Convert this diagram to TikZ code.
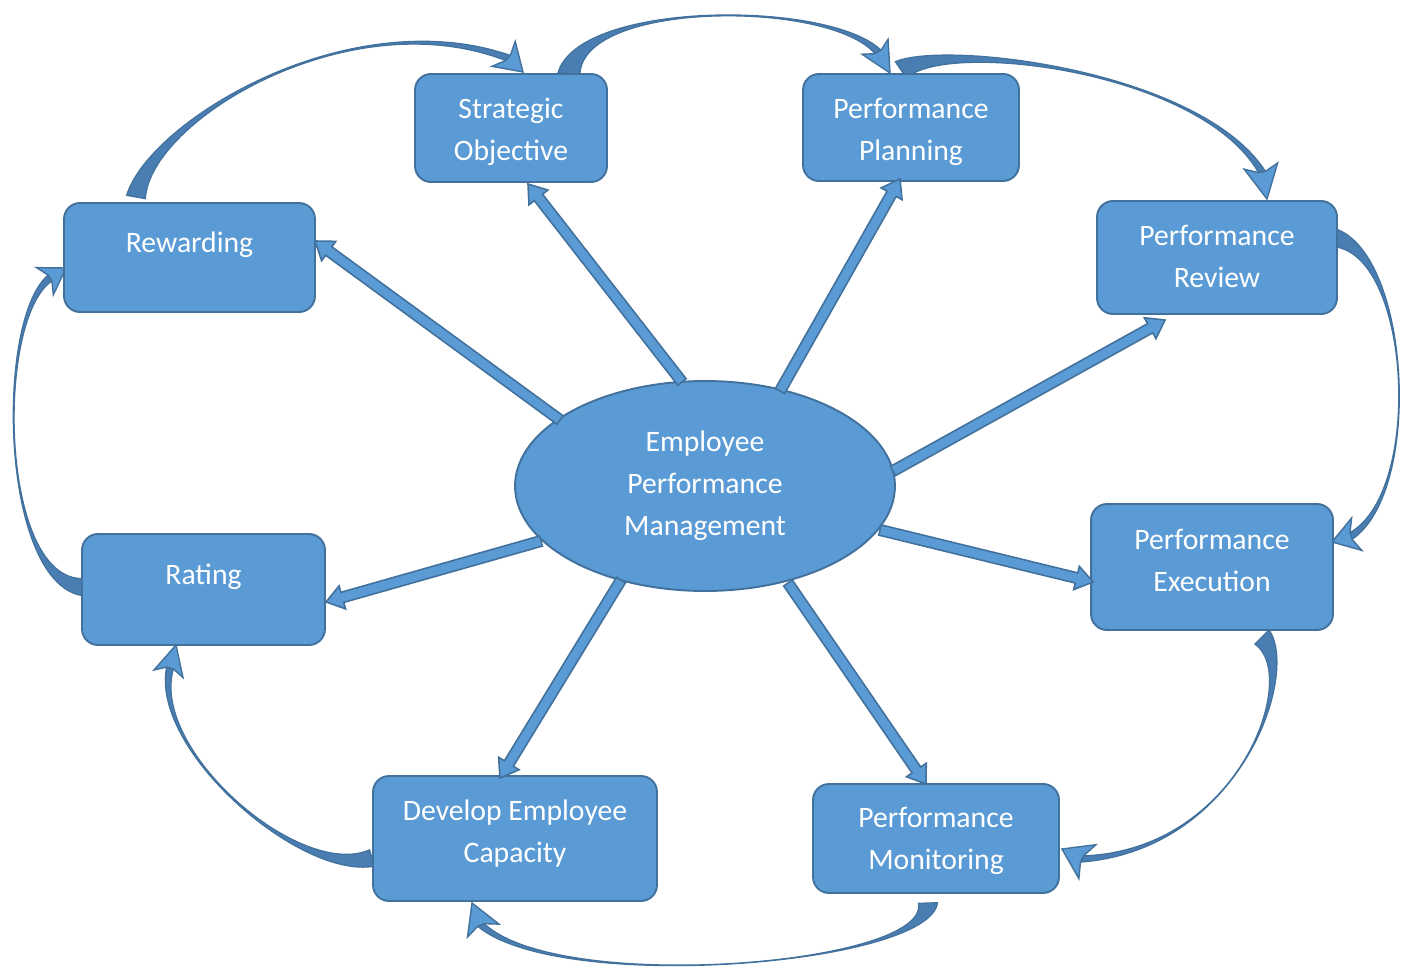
\documentclass[tikz,border=0pt]{standalone}
\usepackage{fontspec}
\setmainfont{Carlito}
\usetikzlibrary{calc,shapes.geometric}
\definecolor{boxfill}{RGB}{91,155,213}
\definecolor{boxline}{RGB}{65,113,156}
\definecolor{darkface}{RGB}{74,126,179}
\tikzset{
  box/.style={rounded corners=0.32cm, fill=boxfill, draw=boxline, line width=1.1pt,
    text=white, align=center, inner sep=0pt, font=\fontsize{16.9pt}{23.9pt}\selectfont},
  boxtext/.style={text=white, align=center, inner sep=0pt, font=\fontsize{16.9pt}{23.9pt}\selectfont},
  hub/.style={ellipse, fill=boxfill, draw=boxline, line width=1.1pt, text=white,
    align=center, inner sep=0pt, minimum width=7.6cm, minimum height=4.2cm,
    font=\fontsize{16.9pt}{23.9pt}\selectfont},
  sarrow/.style={fill=boxfill, draw=boxline, line width=0.9pt, line join=miter},
  cbody/.style={fill=darkface, draw=boxline, line width=0.7pt},
  chead/.style={fill=boxfill, draw=boxline, line width=0.8pt, line join=miter}
}
% straight block arrow from #1 to #2
\newcommand\blockarrow[2]{%
  \path ($(#2)!0.34cm!(#1)$) coordinate (bh);
  \filldraw[sarrow] ($(#1)!0.105cm!90:(#2)$) -- ($(bh)!0.105cm!90:(#2)$) -- ($(bh)!0.24cm!90:(#2)$)
    -- (#2) -- ($(bh)!0.24cm!-90:(#2)$) -- ($(bh)!0.105cm!-90:(#2)$) -- ($(#1)!0.105cm!-90:(#2)$) -- cycle;}
% curved tapered arrow: #1 tail, #2 c1, #3 c2, #4 head base, #5 tip, #6 tail half width, #7 head half width
\newcommand\curvearrow[7]{%
  \path ($(#1)!#6!90:(#2)$) coordinate (t1) ($(#1)!#6!-90:(#2)$) coordinate (t2)
    ($(#4)!0.07cm!90:(#5)$) coordinate (b1) ($(#4)!0.07cm!-90:(#5)$) coordinate (b2)
    ($(#4)!0.12cm!180:(#5)$) coordinate (bb);
  \filldraw[cbody] (t1) .. controls (#2) and (#3) .. (b1) -- (b2) .. controls (#3) and (#2) .. (t2) -- cycle;
  \filldraw[chead] (b1) -- ($(bb)!#7!90:(#5)$) -- (#5) -- ($(bb)!#7!-90:(#5)$) -- (b2) -- cycle;}
\begin{document}
\begin{tikzpicture}[x=0.02cm, y=-0.02cm]
\useasboundingbox (0,0) rectangle (1414,970);
% curved arrow end points
\coordinate (aT) at (569,74);   \coordinate (aB) at (878,52);   \coordinate (aP) at (890,73);
\coordinate (bT) at (901,70);   \coordinate (bB) at (1262,172); \coordinate (bP) at (1267,199);
\coordinate (cT) at (1330,237); \coordinate (cB) at (1351,536); \coordinate (cP) at (1332,542);
\coordinate (dT) at (1262,637); \coordinate (dB) at (1082,859); \coordinate (dP) at (1062,849);
\coordinate (eT) at (928,903);  \coordinate (eB) at (481,925);  \coordinate (eP) at (472,903);
\coordinate (fT) at (372,858);  \coordinate (fB) at (170,668);  \coordinate (fP) at (176,645);
\coordinate (gT) at (82,587);   \coordinate (gB) at (50,278);   \coordinate (gP) at (66,268);
\coordinate (hT) at (136,197);  \coordinate (hB) at (508,58);   \coordinate (hP) at (523,72);
\curvearrow{aT}{580,0}{830,0}{aB}{aP}{0.22cm}{0.3cm}
\curvearrow{bT}{945,40}{1200,70}{bB}{bP}{0.2cm}{0.34cm}
\curvearrow{cT}{1410,245}{1425,490}{cB}{cP}{0.19cm}{0.34cm}
\curvearrow{dT}{1300,675}{1240,850}{dB}{dP}{0.2cm}{0.38cm}
\curvearrow{eT}{930,965}{560,995}{eB}{eP}{0.19cm}{0.34cm}
\curvearrow{fT}{300,880}{150,750}{fB}{fP}{0.17cm}{0.3cm}
\curvearrow{gT}{0,580}{-5,320}{gB}{gP}{0.17cm}{0.32cm}
\curvearrow{hT}{150,120}{350,0}{hB}{hP}{0.19cm}{0.34cm}
% boxes
\node[box, minimum width=3.84cm, minimum height=2.16cm] (so) at (511,128) {};
\node[box, minimum width=4.32cm, minimum height=2.14cm] (pp) at (911,127.5) {};
\node[box, minimum width=4.8cm, minimum height=2.26cm] (pr) at (1217,257.5) {};
\node[box, minimum width=4.84cm, minimum height=2.52cm] (pe) at (1212,567) {};
\node[box, minimum width=4.92cm, minimum height=2.18cm] (pm) at (936,838.5) {};
\node[box, minimum width=5.68cm, minimum height=2.5cm] (dc) at (515,838.5) {};
\node[box, minimum width=4.86cm, minimum height=2.22cm] (ra) at (203.5,589.5) {\raisebox{0.6cm}{Rating}};
\node[box, minimum width=5.02cm, minimum height=2.18cm] (rw) at (189.5,257.5) {\raisebox{0.62cm}{Rewarding}};
\node[boxtext] (soT) at (511,132) {Strategic\\Objective};
\node[boxtext] (ppT) at (911,132) {Performance\\Planning};
\node[boxtext] (prT) at (1217,256) {Performance\\Review};
\node[boxtext] (peT) at (1212,560) {Performance\\Execution};
\node[boxtext] (pmT) at (936,841) {Performance\\Monitoring};
\node[boxtext] (dcT) at (515,834) {Develop Employee\\Capacity};
\node[hub] (epm) at (705,486) {Employee\\Performance\\Management};
% straight arrows
\coordinate (s1a) at (682,382); \coordinate (s1b) at (528,184);
\coordinate (s2a) at (780,391); \coordinate (s2b) at (900,179);
\coordinate (s3a) at (893,471); \coordinate (s3b) at (1165,320);
\coordinate (s4a) at (880,530); \coordinate (s4b) at (1093,582);
\coordinate (s5a) at (788,583); \coordinate (s5b) at (926,784);
\coordinate (s6a) at (621,580); \coordinate (s6b) at (500,778);
\coordinate (s7a) at (541,541); \coordinate (s7b) at (326,602);
\coordinate (s8a) at (560,420); \coordinate (s8b) at (315,241);
\blockarrow{s1a}{s1b}
\blockarrow{s2a}{s2b}
\blockarrow{s3a}{s3b}
\blockarrow{s4a}{s4b}
\blockarrow{s5a}{s5b}
\blockarrow{s6a}{s6b}
\blockarrow{s7a}{s7b}
\blockarrow{s8a}{s8b}
\end{tikzpicture}
\end{document}
